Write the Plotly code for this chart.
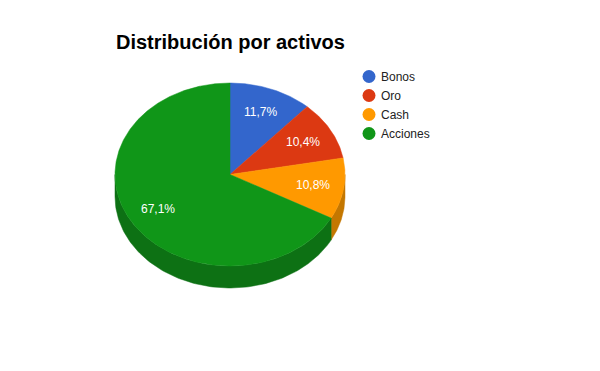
import numpy as np
import plotly.graph_objects as go

title = "Distribución por activos"
categories = ["Bonos", "Oro", "Cash", "Acciones"]
values = [11.7, 10.4, 10.8, 67.1]
colors = ["#3366cc", "#dc3912", "#ff9900", "#109618"]
side_colors = ["#264d99", "#a52b0e", "#c47700", "#0d7114"]

# pie geometry in pixel space
cx, cy, rx, ry, depth = 230, 174.5, 115, 91.5, 22
label_r = 0.73
OFF = 8  # page body margin

total = sum(values)
fracs = [v / total for v in values]
starts = np.cumsum([0] + fracs[:-1])

def pt(theta_deg, dy=0.0):
    t = np.radians(theta_deg)
    return cx + rx * np.sin(t), cy - ry * np.cos(t) + dy

fig = go.Figure()

# side walls (visible front half: 90..270 deg)
for i, (s, f) in enumerate(zip(starts, fracs)):
    a, b = s * 360, (s + f) * 360
    lo, hi = max(a, 90), min(b, 270)
    if hi <= lo:
        continue
    th = np.linspace(lo, hi, 120)
    xt, yt = pt(th)
    xb, yb = pt(th[::-1], depth)
    xs = np.concatenate([xt, xb, xt[:1]])
    ys = np.concatenate([yt, yb, yt[:1]])
    fig.add_trace(go.Scatter(x=xs, y=ys, mode="lines", fill="toself",
                             fillcolor=side_colors[i], line=dict(width=0.5, color=side_colors[i]),
                             hoverinfo="skip", showlegend=False))

# top faces
for i, (s, f) in enumerate(zip(starts, fracs)):
    a, b = s * 360, (s + f) * 360
    th = np.linspace(a, b, max(int((b - a) * 2), 10))
    xa, ya = pt(th)
    xs = np.concatenate([[cx], xa, [cx]])
    ys = np.concatenate([[cy], ya, [cy]])
    fig.add_trace(go.Scatter(x=xs, y=ys, mode="lines", fill="toself",
                             fillcolor=colors[i], line=dict(width=0.5, color=colors[i]),
                             hoverinfo="skip", showlegend=False, name=categories[i]))

# slice labels
for i, (s, f) in enumerate(zip(starts, fracs)):
    mid = (s + f / 2) * 360
    t = np.radians(mid)
    lx = cx + rx * label_r * np.sin(t)
    ly = cy - ry * label_r * np.cos(t)
    txt = f"{f*100:.1f}".replace(".", ",") + "%"
    fig.add_annotation(x=lx, y=ly, text=txt, showarrow=False,
                       font=dict(family="Arial, Liberation Sans", size=12, color="white"),
                       xanchor="center", yanchor="middle")

# legend
leg_x, leg_y0, leg_dy = 369, 76.5, 19
for i, c in enumerate(categories):
    y = leg_y0 + i * leg_dy
    fig.add_trace(go.Scatter(x=[leg_x], y=[y], mode="markers",
                             marker=dict(size=13, color=colors[i], symbol="circle"),
                             hoverinfo="skip", showlegend=False))
    fig.add_annotation(x=leg_x + 10, y=y, text=c, showarrow=False,
                       font=dict(family="Arial, Liberation Sans", size=12, color="#222222"),
                       xanchor="left", yanchor="middle")

fig.add_annotation(x=114, y=42, text=f"<b>{title}</b>", showarrow=False,
                   font=dict(family="Arial, Liberation Sans", size=20, color="#000000"),
                   xanchor="left", yanchor="middle")

fig.update_layout(
    width=600, height=371, autosize=False,
    margin=dict(l=0, r=0, t=0, b=0),
    paper_bgcolor="white", plot_bgcolor="white",
    xaxis=dict(range=[OFF, 600 + OFF], visible=False, fixedrange=True),
    yaxis=dict(range=[371 + OFF, OFF], visible=False, fixedrange=True),
    showlegend=False,
)

fig.write_html("out.html")
